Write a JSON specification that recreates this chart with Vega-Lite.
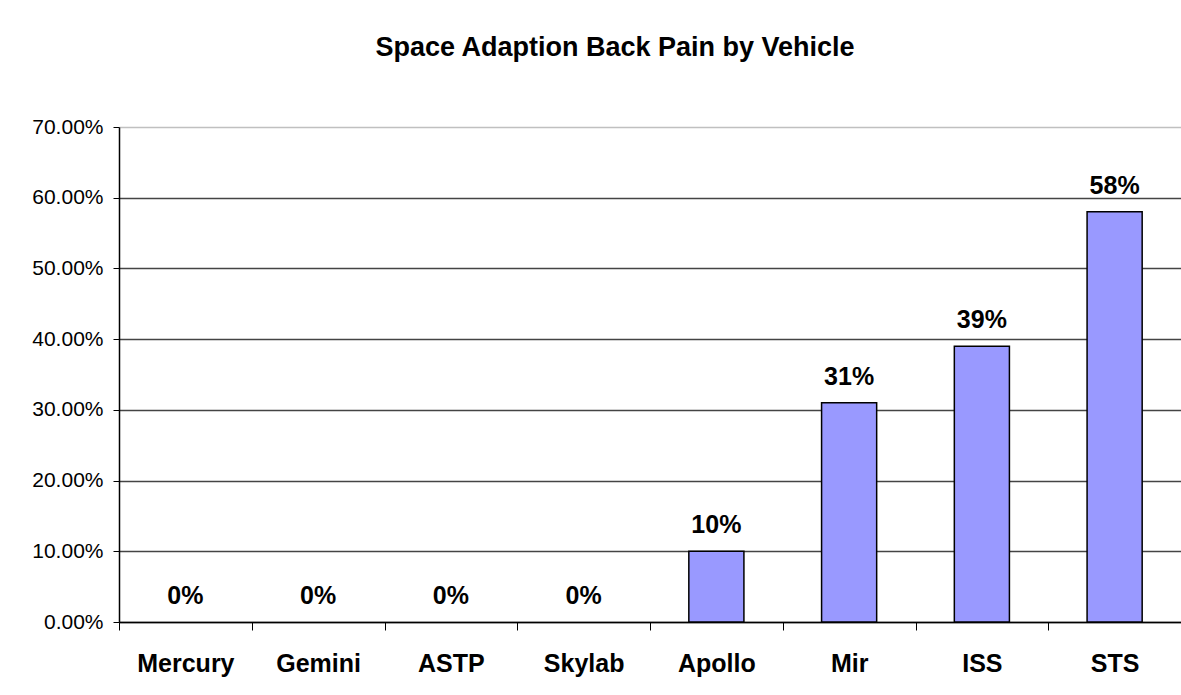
{
  "$schema": "https://vega.github.io/schema/vega-lite/v6.json",
  "autosize": "none",
  "width": 1062,
  "height": 495,
  "padding": {"left": 119, "top": 127, "right": 0, "bottom": 73},
  "background": "white",
  "config": {
    "font": "Liberation Sans",
    "view": {"stroke": null}
  },
  "title": {
    "text": "Space Adaption Back Pain by Vehicle",
    "font": "Liberation Sans",
    "fontSize": 27,
    "fontWeight": "bold",
    "color": "black",
    "anchor": "middle",
    "baseline": "alphabetic",
    "offset": 33,
    "dx": -35
  },
  "data": {
    "values": [
      {"vehicle": "Mercury", "pct": 0},
      {"vehicle": "Gemini", "pct": 0},
      {"vehicle": "ASTP", "pct": 0},
      {"vehicle": "Skylab", "pct": 0},
      {"vehicle": "Apollo", "pct": 0.10},
      {"vehicle": "Mir", "pct": 0.31},
      {"vehicle": "ISS", "pct": 0.39},
      {"vehicle": "STS", "pct": 0.58}
    ]
  },
  "encoding": {
    "x": {
      "field": "vehicle",
      "type": "nominal",
      "sort": null,
      "scale": {"paddingInner": 0, "paddingOuter": 0},
      "axis": {
        "title": null,
        "labelAngle": 0,
        "labelFont": "Liberation Sans",
        "labelFontSize": 25,
        "labelFontWeight": "bold",
        "labelColor": "black",
        "labelPadding": 21,
        "tickBand": "extent",
        "tickColor": "black",
        "tickSize": 8,
        "domainColor": "black",
        "domainWidth": 1.5,
        "grid": false
      }
    },
    "y": {
      "field": "pct",
      "type": "quantitative",
      "scale": {"domain": [0, 0.7], "nice": false},
      "axis": {
        "title": null,
        "format": ".2%",
        "values": [0, 0.1, 0.2, 0.3, 0.4, 0.5, 0.6, 0.7],
        "labelFont": "Liberation Sans",
        "labelFontSize": 21,
        "labelColor": "black",
        "labelPadding": 10,
        "tickColor": "black",
        "tickSize": 6,
        "domainColor": "black",
        "domainWidth": 1.5,
        "grid": true,
        "gridColor": {"condition": {"test": "datum.value >= 0.7", "value": "#c0c0c0"}, "value": "#444444"},
        "gridWidth": 1.3
      }
    }
  },
  "layer": [
    {
      "mark": {"type": "bar", "fill": "#9999FF", "stroke": "black", "strokeWidth": 1.5, "width": {"band": 0.415}},
      "encoding": {
        "strokeOpacity": {"condition": {"test": "datum.pct == 0", "value": 0}, "value": 1}
      }
    },
    {
      "mark": {
        "type": "text",
        "baseline": "alphabetic",
        "dy": -18,
        "font": "Liberation Sans",
        "fontSize": 25,
        "fontWeight": "bold",
        "color": "black"
      },
      "encoding": {
        "text": {"field": "pct", "type": "quantitative", "format": ".0%"}
      }
    }
  ]
}
